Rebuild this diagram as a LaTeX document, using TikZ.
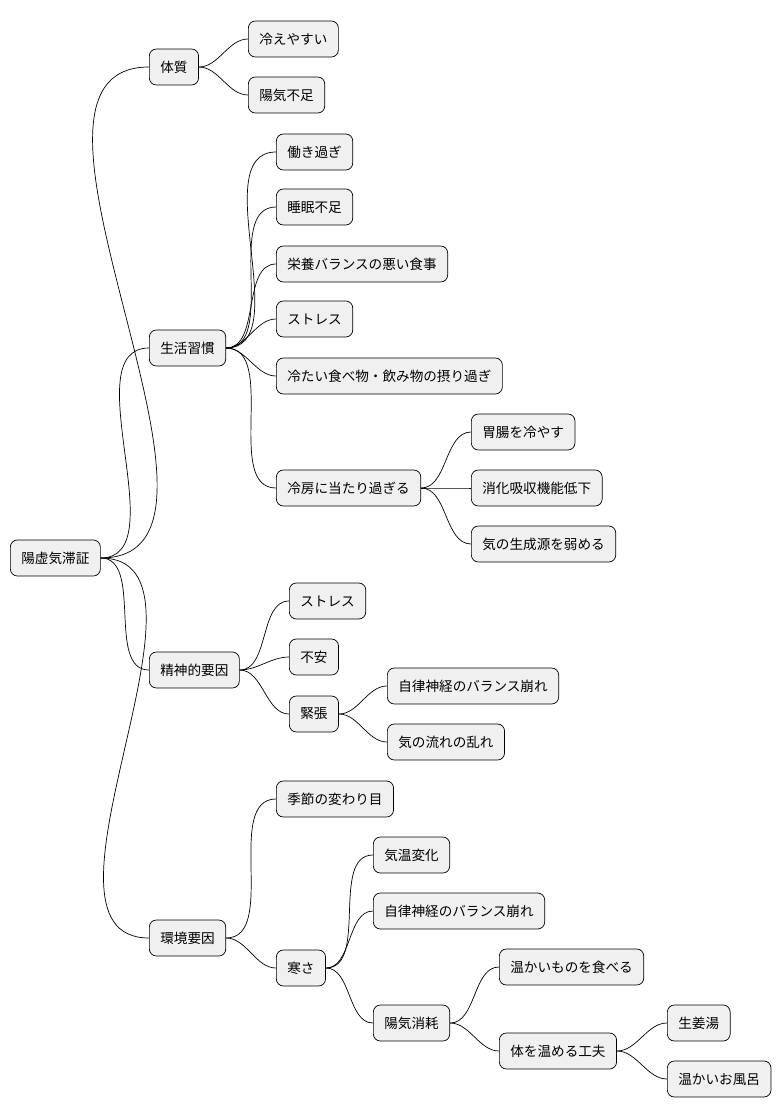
\documentclass[tikz,border=0pt]{standalone}
\usepackage{fontspec}
\setmainfont{Noto Sans CJK JP}
\begin{document}
\begin{tikzpicture}[x=1pt,y=-1pt,
    topic/.style={draw=black, fill=gray!12, rounded corners=7pt, anchor=west,
      minimum height=36pt, inner xsep=11pt, font=\fontsize{13.6}{16}\selectfont, line width=0.7pt},
    link/.style={line width=0.7pt, out=0, in=180, looseness=0.9}]
    \useasboundingbox (0,0) rectangle (782,1118);

    % root
    \node[topic] (root) at (10,558) {陽虚気滞証};

    % first level
    \node[topic] (taishitsu) at (149,67) {体質};
    \node[topic] (seikatsu) at (149,348) {生活習慣};
    \node[topic] (seishin) at (149,670) {精神的要因};
    \node[topic] (kankyo) at (149,938) {環境要因};

    % 体質
    \node[topic] (hie) at (248,39) {冷えやすい};
    \node[topic] (yoki) at (248,95) {陽気不足};

    % 生活習慣
    \node[topic] (hataraki) at (276,152) {働き過ぎ};
    \node[topic] (suimin) at (276,207) {睡眠不足};
    \node[topic] (eiyo) at (276,264) {栄養バランスの悪い食事};
    \node[topic] (stressA) at (276,319) {ストレス};
    \node[topic] (tsumetai) at (276,376) {冷たい食べ物・飲み物の摂り過ぎ};
    \node[topic] (reibo) at (276,488) {冷房に当たり過ぎる};
    \node[topic] (ichou) at (471,432) {胃腸を冷やす};
    \node[topic] (shoka) at (471,488) {消化吸収機能低下};
    \node[topic] (seisei) at (471,544) {気の生成源を弱める};

    % 精神的要因
    \node[topic] (stressB) at (289,601) {ストレス};
    \node[topic] (fuan) at (289,657) {不安};
    \node[topic] (kincho) at (289,714) {緊張};
    \node[topic] (jiritsuA) at (387,686) {自律神経のバランス崩れ};
    \node[topic] (ki) at (387,742) {気の流れの乱れ};

    % 環境要因
    \node[topic] (kisetsu) at (276,799) {季節の変わり目};
    \node[topic] (samusa) at (276,968) {寒さ};
    \node[topic] (kion) at (373,855) {気温変化};
    \node[topic] (jiritsuB) at (373,911) {自律神経のバランス崩れ};
    \node[topic] (shomo) at (373,1023) {陽気消耗};
    \node[topic] (taberu) at (499,967) {温かいものを食べる};
    \node[topic] (kufu) at (499,1051) {体を温める工夫};
    \node[topic] (shoga) at (667,1023) {生姜湯};
    \node[topic] (furo) at (667,1079) {温かいお風呂};

    % connectors
    \foreach \a/\b in {root/taishitsu, root/seikatsu, root/seishin, root/kankyo,
        taishitsu/hie, taishitsu/yoki,
        seikatsu/hataraki, seikatsu/suimin, seikatsu/eiyo, seikatsu/stressA,
        seikatsu/tsumetai, seikatsu/reibo,
        reibo/ichou, reibo/shoka, reibo/seisei,
        seishin/stressB, seishin/fuan, seishin/kincho,
        kincho/jiritsuA, kincho/ki,
        kankyo/kisetsu, kankyo/samusa,
        samusa/kion, samusa/jiritsuB, samusa/shomo,
        shomo/taberu, shomo/kufu, kufu/shoga, kufu/furo}
      \draw[link] (\a.east) to (\b.west);
\end{tikzpicture}
\end{document}
